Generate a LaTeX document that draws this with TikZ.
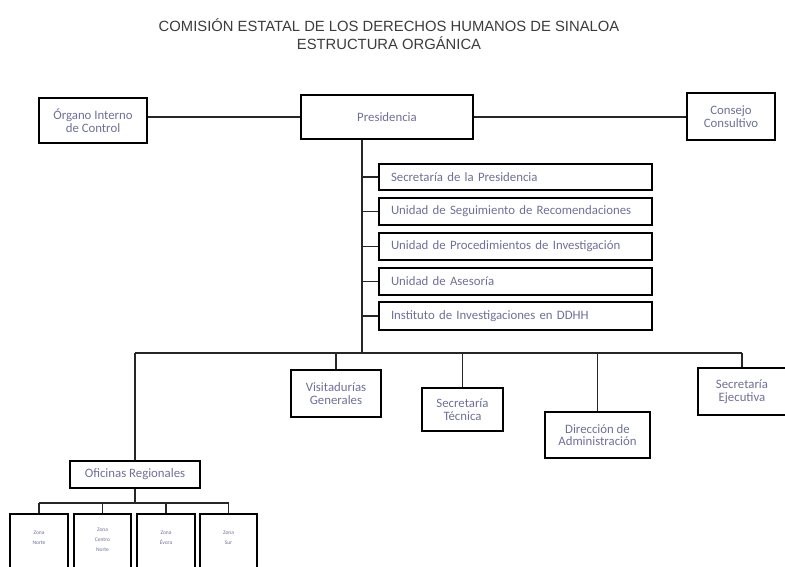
\documentclass[tikz,border=0pt]{standalone}
\usepackage{fontspec}
\setmainfont{Carlito}
\newfontfamily\titlefont{Liberation Sans}
\definecolor{txt}{RGB}{112,112,150}
\definecolor{ttl}{RGB}{60,60,60}
\newcommand{\zonetext}[2]{\parbox[c][60pt][t]{52pt}{\vspace*{#1}\centering\fontsize{5.5}{10}\selectfont #2\par}}
\begin{document}
\begin{tikzpicture}[x=1pt,y=-1pt,
  box/.style={draw=black, line width=2pt, inner sep=0pt, text=txt, align=center,
              font=\fontsize{12.8}{12.5}\selectfont},
  subbox/.style={box, minimum width=273pt, text width=249pt, inner xsep=12pt, align=left},
  zone/.style={box, anchor=north, inner sep=0pt},
  conn/.style={line width=1.1pt, draw=black!85}]
\useasboundingbox (0,0) rectangle (785,567);
\fill[white] (0,0) rectangle (785,567);

% title
\node[font=\titlefont\fontsize{14.8}{18}\selectfont, text=ttl, align=center] (title) at (389,34)
  {COMISIÓN ESTATAL DE LOS DERECHOS HUMANOS DE SINALOA\\ESTRUCTURA ORGÁNICA};

% top level
\node[box, minimum width=108pt, minimum height=45pt] (org) at (93,120.5) {Órgano Interno\\de Control};
\node[box, minimum width=172pt, minimum height=44pt] (pres) at (387,117) {Presidencia};
\node[box, minimum width=88pt, minimum height=47pt] (cons) at (731,116.5) {Consejo\\Consultivo};

% staff units
\node[subbox, minimum height=26pt] (s1) at (515.5,177) {Secretaría de la Presidencia};
\node[subbox, minimum height=27pt] (s2) at (515.5,211.5) {Unidad de Seguimiento de Recomendaciones};
\node[subbox, minimum height=27pt] (s3) at (515.5,246.5) {Unidad de Procedimientos de Investigación};
\node[subbox, minimum height=27pt] (s4) at (515.5,281.5) {Unidad de Asesoría};
\node[subbox, minimum height=28pt] (s5) at (515.5,316) {Instituto de Investigaciones en DDHH};

% line units
\node[box, minimum width=90pt, minimum height=47pt] (vis) at (336,393.5) {Visitadurías\\Generales};
\node[box, minimum width=81pt, minimum height=43pt] (tec) at (462.5,409.5) {Secretaría\\Técnica};
\node[box, minimum width=105pt, minimum height=46pt] (dir) at (597.5,435) {Dirección de\\Administración};
\node[box, minimum width=88pt, minimum height=47pt] (eje) at (742,391.5) {Secretaría\\Ejecutiva};
\node[box, minimum width=130pt, minimum height=27pt] (ofi) at (135,474.5) {Oficinas Regionales};

% zones
\node[zone, minimum width=58pt] (z1) at (39,513) {\zonetext{17pt}{Zona\\Norte}};
\node[zone, minimum width=57pt] (z2) at (102.5,513) {\zonetext{14pt}{Zona\\Centro\\Norte}};
\node[zone, minimum width=58pt] (z3) at (166,513) {\zonetext{17pt}{Zona\\Évora}};
\node[zone, minimum width=57pt] (z4) at (228.5,513) {\zonetext{17pt}{Zona\\Sur}};

% helper coordinates
\coordinate (tx) at (362,0);
\coordinate (tb) at (362,353);
\coordinate (sb) at (0,503);

% connectors
\draw[conn] (pres.west) -- (pres.west -| org.east);
\draw[conn] (pres.east) -- (pres.east -| cons.west);
\draw[conn] (pres.south -| tx) -- (tb);
\foreach \s in {s1,s2,s3,s4,s5}{
  \draw[conn] (\s.west) -- (\s.west -| tx);
}
\draw[conn] (ofi.north |- tb) -- (eje.north |- tb);
\foreach \n in {ofi,vis,tec,dir,eje}{
  \draw[conn] (\n.north) -- (\n.north |- tb);
}
\draw[conn] (ofi.south) -- (ofi.south |- sb);
\draw[conn] (z1.north |- sb) -- (z4.north |- sb);
\foreach \z in {z1,z2,z3,z4}{
  \draw[conn] (\z.north) -- (\z.north |- sb);
}
\end{tikzpicture}
\end{document}
